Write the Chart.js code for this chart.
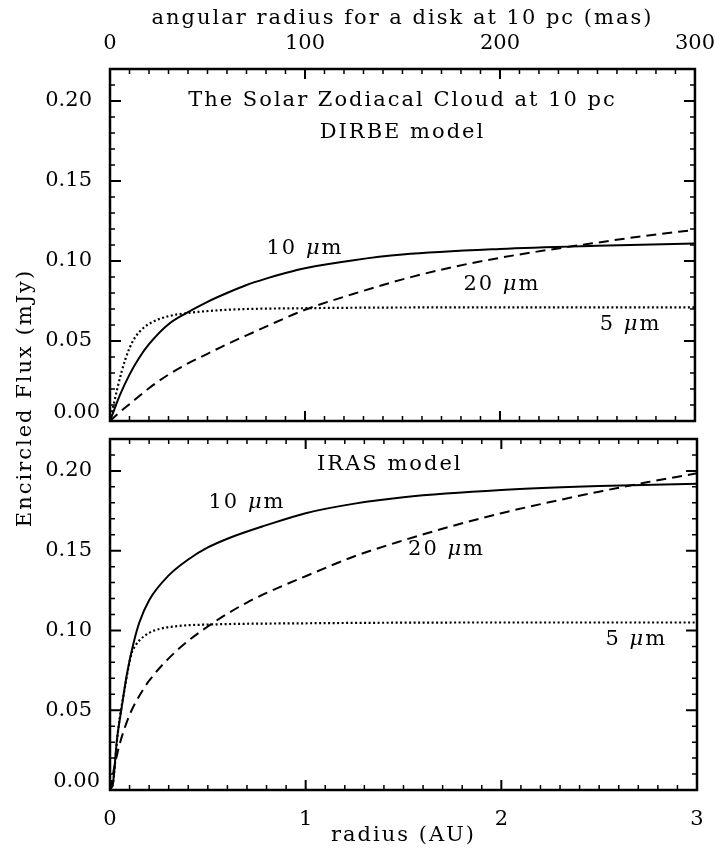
<!DOCTYPE html>
<html>
<head>
<meta charset="utf-8">
<script src="https://cdn.jsdelivr.net/npm/chart.js@4.4.1/dist/chart.umd.min.js"></script>
<style>
  html, body { margin: 0; padding: 0; background: #fff; }
  #wrap { position: relative; width: 720px; height: 850px; background: #fff; }
  #wrap canvas { position: absolute; left: 0; top: 0; }
</style>
</head>
<body>
<div id="wrap">
  <canvas id="dirbe-chart" width="720" height="850"></canvas>
  <canvas id="iras-chart" width="720" height="850"></canvas>
</div>
<script>
// --- axis ticks ---
const radiusTicks = [0, 1, 2, 3];          // AU
const masTicks = [0, 100, 200, 300];       // mas at 10 pc
const fluxTicks = [0, 0.05, 0.10, 0.15, 0.20];

// --- DIRBE model (top panel) ---
const dirbe10x = [0, 0.02, 0.05, 0.1, 0.15, 0.2, 0.3, 0.4, 0.5, 0.6, 0.7, 0.8, 0.9, 1.0, 1.25, 1.5, 2.0, 2.5, 3.0];
const dirbe10y = [0, 0.0065, 0.016, 0.029, 0.0395, 0.048, 0.0605, 0.068, 0.0745, 0.080, 0.085, 0.089, 0.0925, 0.0955, 0.1005, 0.104, 0.1075, 0.1095, 0.111];
const dirbe20x = [0, 0.05, 0.1, 0.2, 0.3, 0.4, 0.5, 0.6, 0.7, 0.8, 1.0, 1.25, 1.5, 1.75, 2.0, 2.25, 2.5, 2.75, 3.0];
const dirbe20y = [0, 0.0055, 0.0105, 0.0205, 0.029, 0.036, 0.042, 0.048, 0.0535, 0.059, 0.0695, 0.0795, 0.0885, 0.096, 0.102, 0.107, 0.1115, 0.1158, 0.1195];
const dirbe5x = [0, 0.02, 0.04, 0.06, 0.08, 0.1, 0.13, 0.17, 0.22, 0.3, 0.4, 0.6, 1.0, 2.0, 3.0];
const dirbe5y = [0, 0.011, 0.0215, 0.031, 0.039, 0.0455, 0.0525, 0.058, 0.062, 0.0655, 0.0675, 0.0695, 0.0705, 0.071, 0.071];

// --- IRAS model (bottom panel) ---
const iras10x = [0, 0.015, 0.035, 0.06, 0.087, 0.12, 0.15, 0.2, 0.3, 0.4, 0.5, 0.6, 0.8, 1.0, 1.25, 1.5, 2.0, 2.5, 3.0];
const iras10y = [0, 0.004, 0.031, 0.052, 0.073, 0.092, 0.105, 0.119, 0.1345, 0.1445, 0.152, 0.1575, 0.166, 0.1735, 0.1795, 0.1835, 0.188, 0.1905, 0.192];
const iras20x = [0, 0.025, 0.05, 0.1, 0.15, 0.2, 0.3, 0.4, 0.5, 0.6, 0.7, 0.8, 1.0, 1.25, 1.5, 1.75, 2.0, 2.25, 2.5, 2.75, 3.0];
const iras20y = [0, 0.016, 0.029, 0.047, 0.059, 0.0685, 0.0825, 0.0935, 0.1025, 0.1105, 0.1175, 0.1235, 0.134, 0.1465, 0.1565, 0.1655, 0.1735, 0.1805, 0.187, 0.193, 0.1985];
const iras5x = [0, 0.015, 0.04, 0.077, 0.11, 0.13, 0.15, 0.2, 0.255, 0.35, 0.5, 1.0, 2.0, 3.0];
const iras5y = [0, 0.004, 0.036, 0.065, 0.0855, 0.0905, 0.0937, 0.0985, 0.101, 0.1028, 0.1037, 0.1045, 0.105, 0.105];

const FONT = "'DejaVu Serif', 'Liberation Serif', serif";
Chart.defaults.font.family = FONT;
Chart.defaults.font.size = 21;
Chart.defaults.color = '#000';

const toPoints = (xs, ys) => xs.map((x, i) => ({ x: x, y: ys[i] }));

function curve(label, xs, ys, dash, width) {
  return {
    label: label,
    data: toPoints(xs, ys),
    borderColor: '#000',
    borderWidth: width || 2,
    borderDash: dash,
    borderCapStyle: 'butt',
    pointRadius: 0,
    fill: false,
    cubicInterpolationMode: 'monotone'
  };
}

// label with italic mu, e.g. "10 μm"
function drawMicron(ctx, num, cx, cy) {
  const up = '21px ' + FONT;
  const it = 'italic 21px ' + FONT;
  ctx.font = up;
  const w1 = ctx.measureText(num + ' ').width;
  const w3 = ctx.measureText('m').width;
  ctx.font = it;
  const w2 = ctx.measureText('\u03bc').width;
  let x = cx - (w1 + w2 + w3) / 2;
  ctx.textAlign = 'left';
  ctx.textBaseline = 'middle';
  ctx.font = up; ctx.fillText(num + ' ', x, cy); x += w1;
  ctx.font = it; ctx.fillText('\u03bc', x, cy); x += w2;
  ctx.font = up; ctx.fillText('m', x, cy);
}

// IDL style frame with inward ticks on all four sides, annotations and titles
const idlFrame = {
  id: 'idlFrame',
  afterDraw(chart, args, opts) {
    const { ctx, chartArea: { left, right, top, bottom } } = chart;
    const xs = chart.scales.x, ys = chart.scales.y;
    ctx.save();
    ctx.strokeStyle = '#000';
    ctx.fillStyle = '#000';

    // x ticks: minor every 0.1 AU (= 10 mas), major every 1 AU
    for (let i = 0; i <= 30; i++) {
      const px = xs.getPixelForValue(i / 10);
      const len = i % 10 === 0 ? 10 : 5;
      ctx.lineWidth = i % 10 === 0 ? 2 : 1.5;
      ctx.beginPath();
      ctx.moveTo(px, bottom); ctx.lineTo(px, bottom - len);
      ctx.moveTo(px, top); ctx.lineTo(px, top + len);
      ctx.stroke();
    }
    // y ticks: minor every 0.01, major every 0.05
    for (let i = 0; i <= 22; i++) {
      const py = ys.getPixelForValue(i / 100);
      const len = i % 5 === 0 ? 11 : 5;
      ctx.lineWidth = i % 5 === 0 ? 2 : 1.5;
      ctx.beginPath();
      ctx.moveTo(left, py); ctx.lineTo(left + len, py);
      ctx.moveTo(right, py); ctx.lineTo(right - len, py);
      ctx.stroke();
    }
    ctx.lineWidth = 2.5;
    ctx.strokeRect(left, top, right - left, bottom - top);

    // the 0.00 label sits a little above its tick, as in the original
    ctx.font = '21px ' + FONT;
    ctx.textAlign = 'right';
    ctx.textBaseline = 'middle';
    ctx.fillText((0).toFixed(2), left - 10, ys.getPixelForValue(0) - 8);

    ctx.letterSpacing = '2px';
    // annotations placed in data units
    (opts.texts || []).forEach(t => {
      const px = xs.getPixelForValue(t.x);
      const py = ys.getPixelForValue(t.y);
      if (t.micron) {
        drawMicron(ctx, t.micron, px, py);
      } else {
        ctx.font = '21px ' + FONT;
        ctx.textAlign = 'center';
        ctx.textBaseline = 'middle';
        ctx.fillText(t.text, px, py);
      }
    });

    // axis titles (pixels)
    (opts.titles || []).forEach(t => {
      ctx.save();
      ctx.translate(t.x === 'mid' ? (left + right) / 2 : t.x, t.y);
      if (t.rotate) ctx.rotate(-Math.PI / 2);
      ctx.font = '21px ' + FONT;
      ctx.textAlign = 'center';
      ctx.textBaseline = 'middle';
      ctx.fillText(t.text, 0, 0);
      ctx.restore();
    });
    ctx.restore();
  }
};

const yScale = {
  type: 'linear',
  position: 'left',
  min: 0,
  max: 0.22,
  afterFit: s => { s.width = 110; },
  afterBuildTicks: s => { s.ticks = fluxTicks.map(v => ({ value: v })); },
  grid: { display: false },
  border: { display: false },
  // zero label is drawn by the frame plugin
  ticks: { padding: 10, callback: v => (v === 0 ? '' : v.toFixed(2)) }
};

// 1. Top panel: DIRBE model
new Chart(document.getElementById('dirbe-chart'), {
  type: 'line',
  data: {
    datasets: [
      curve('10 um', dirbe10x, dirbe10y, [], 2),
      curve('20 um', dirbe20x, dirbe20y, [10, 6], 2),
      curve('5 um', dirbe5x, dirbe5y, [2, 2.5], 2.2)
    ]
  },
  options: {
    responsive: false,
    animation: false,
    devicePixelRatio: 1,
    layout: { padding: { left: 0, right: 23, top: 0, bottom: 429 } },
    plugins: {
      legend: { display: false },
      tooltip: { enabled: false },
      idlFrame: {
        titles: [
          { text: 'angular radius for a disk at 10 pc (mas)', x: 'mid', y: 19 },
          { text: 'Encircled Flux (mJy)', x: 26, y: 398, rotate: true }
        ],
        texts: [
          { text: 'The Solar Zodiacal Cloud at 10 pc', x: 1.5, y: 0.2 },
          { text: 'DIRBE model', x: 1.5, y: 0.18 },
          { micron: '10', x: 1.0, y: 0.108 },
          { micron: '20', x: 2.01, y: 0.085 },
          { micron: '5', x: 2.67, y: 0.06 }
        ]
      }
    },
    scales: {
      x: { type: 'linear', position: 'bottom', min: 0, max: 3, display: false },
      xMas: {
        type: 'linear',
        position: 'top',
        min: 0,
        max: 300,
        afterFit: s => { s.height = 69; },
        afterBuildTicks: s => { s.ticks = masTicks.map(v => ({ value: v })); },
        grid: { display: false },
        border: { display: false },
        ticks: { padding: 5 }
      },
      y: yScale
    }
  },
  plugins: [idlFrame]
});

// 2. Bottom panel: IRAS model
new Chart(document.getElementById('iras-chart'), {
  type: 'line',
  data: {
    datasets: [
      curve('10 um', iras10x, iras10y, [], 2),
      curve('20 um', iras20x, iras20y, [10, 6], 2),
      curve('5 um', iras5x, iras5y, [2, 2.5], 2.2)
    ]
  },
  options: {
    responsive: false,
    animation: false,
    devicePixelRatio: 1,
    layout: { padding: { left: 0, right: 23, top: 439, bottom: 0 } },
    plugins: {
      legend: { display: false },
      tooltip: { enabled: false },
      idlFrame: {
        titles: [
          { text: 'radius (AU)', x: 'mid', y: 836 }
        ],
        texts: [
          { text: 'IRAS model', x: 1.43, y: 0.204 },
          { micron: '10', x: 0.70, y: 0.18 },
          { micron: '20', x: 1.72, y: 0.151 },
          { micron: '5', x: 2.69, y: 0.094 }
        ]
      }
    },
    scales: {
      x: {
        type: 'linear',
        position: 'bottom',
        min: 0,
        max: 3,
        afterFit: s => { s.height = 60; },
        afterBuildTicks: s => { s.ticks = radiusTicks.map(v => ({ value: v })); },
        grid: { display: false },
        border: { display: false },
        ticks: { padding: 9 }
      },
      y: Object.assign({}, yScale)
    }
  },
  plugins: [idlFrame]
});
</script>
</body>
</html>
